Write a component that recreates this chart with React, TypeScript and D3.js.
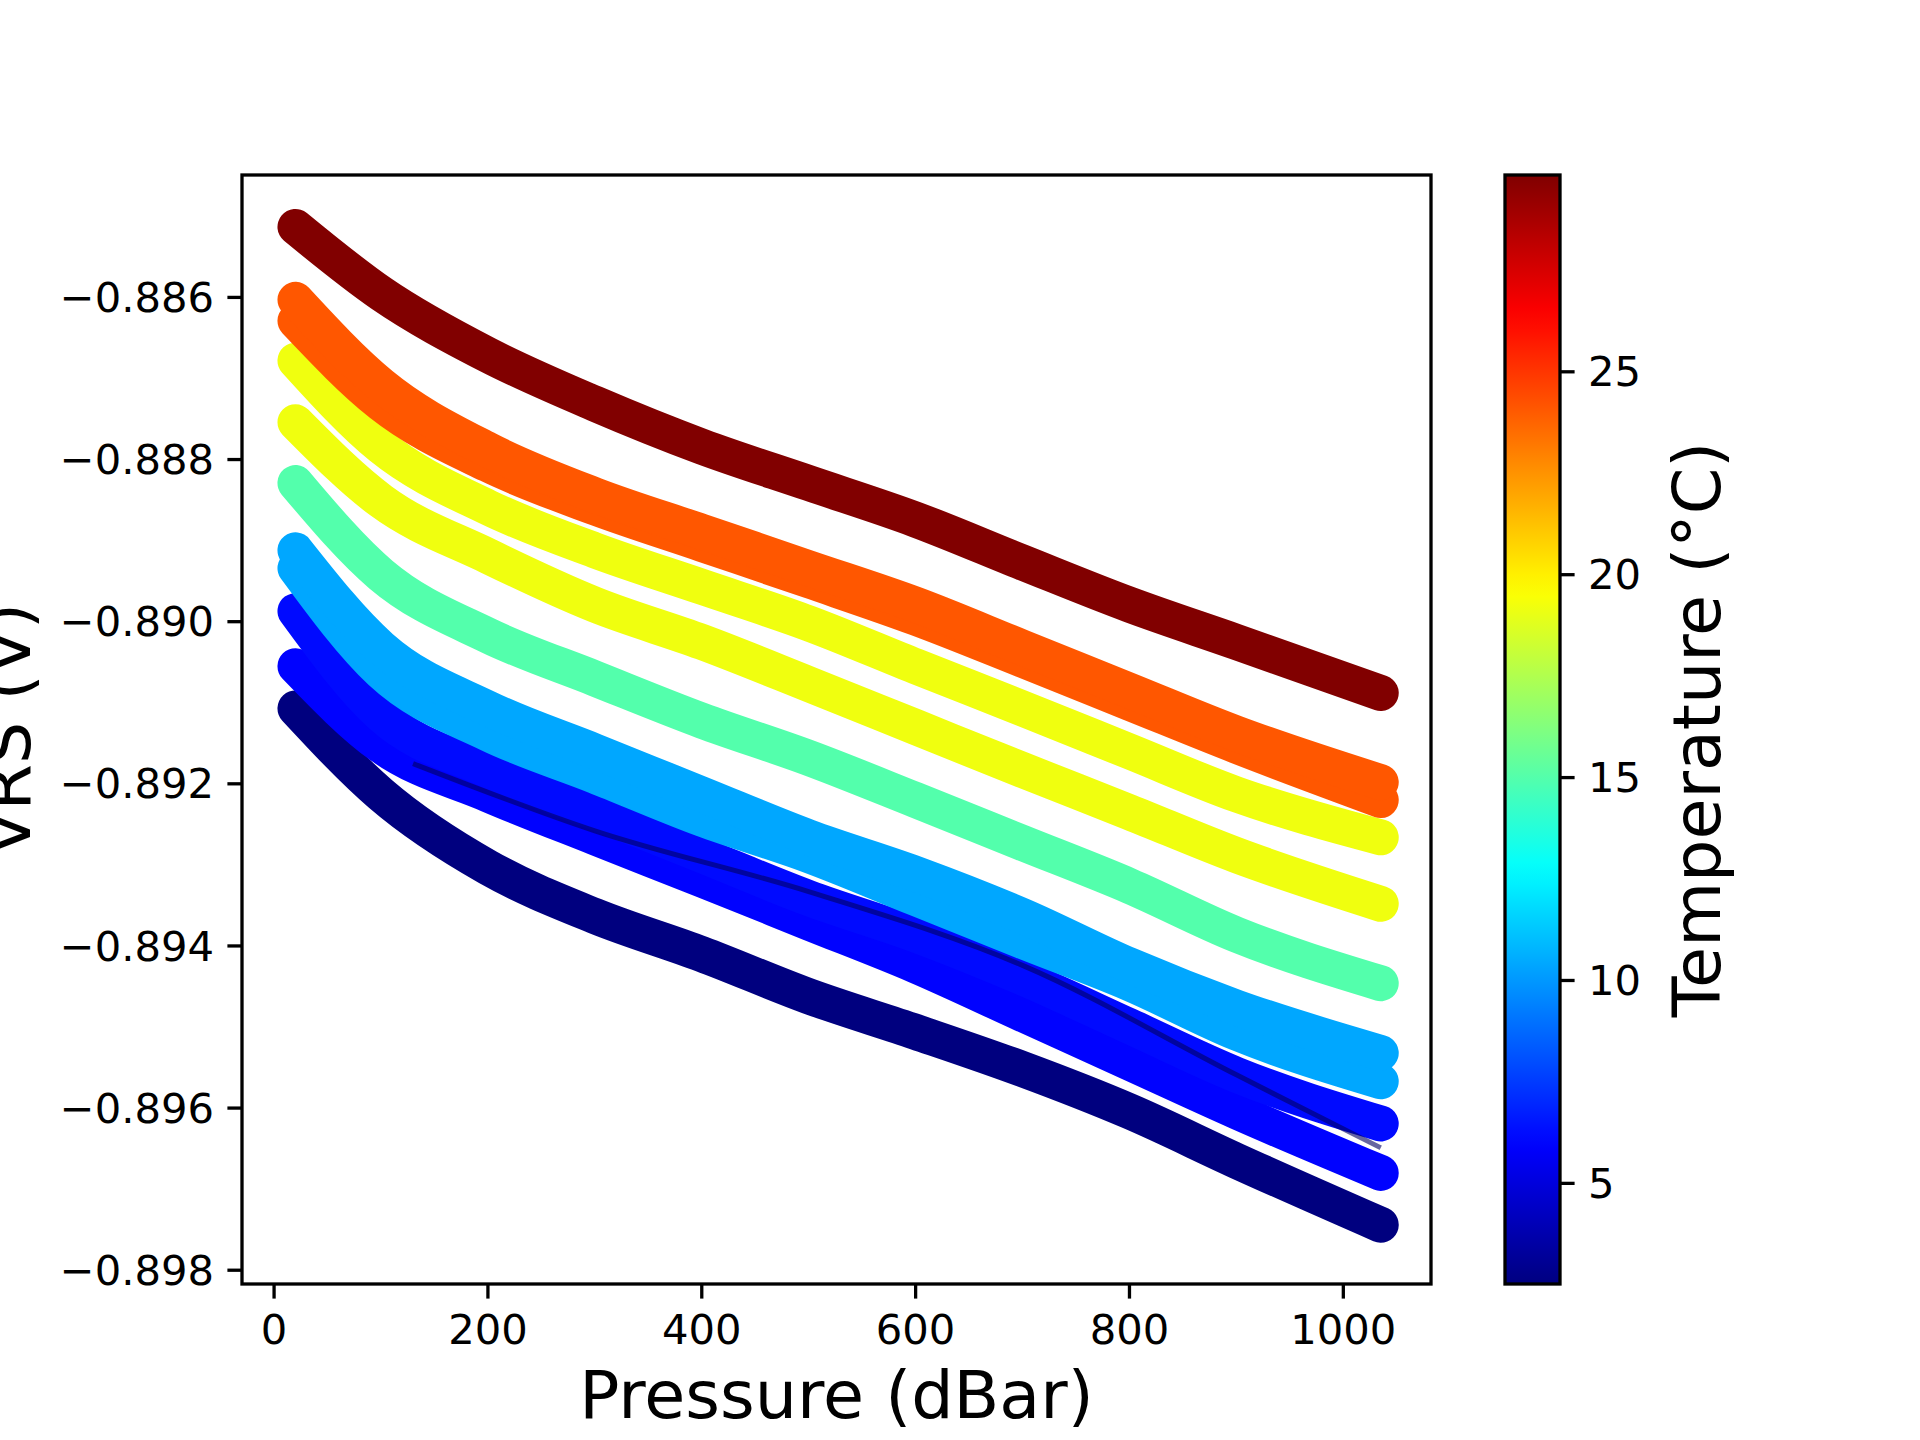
import React from 'react';
import * as d3 from 'd3';

const W = 1920;
const H = 1440;
const margin = { left: 242, right: 1431, top: 175, bottom: 1284 };
const cbar = { left: 1505, right: 1560 };

const pressures = [20, 100, 200, 300, 400, 500, 600, 700, 800, 900, 1035];

interface Series { temp: number; values: number[] }

const series: Series[] = [
  { temp: 2.5, values: [-0.89107, -0.89213, -0.89303, -0.89363, -0.8941, -0.89462, -0.89506, -0.89552, -0.89604, -0.89665, -0.89744] },
  { temp: 6.0, values: [-0.89055, -0.89153, -0.89213, -0.89266, -0.89318, -0.89371, -0.89424, -0.89484, -0.89544, -0.89604, -0.8968] },
  { temp: 6.2, values: [-0.88987, -0.89115, -0.89183, -0.89235, -0.89288, -0.89341, -0.89386, -0.89439, -0.89499, -0.89559, -0.89619] },
  { temp: 10.4, values: [-0.88934, -0.89062, -0.89138, -0.8919, -0.89243, -0.89288, -0.89341, -0.89394, -0.89446, -0.89507, -0.89567] },
  { temp: 10.4, values: [-0.88912, -0.89032, -0.89107, -0.8916, -0.89213, -0.89266, -0.89311, -0.89363, -0.89424, -0.89476, -0.89532] },
  { temp: 15.0, values: [-0.88829, -0.88942, -0.89017, -0.8907, -0.89122, -0.89168, -0.8922, -0.89273, -0.89326, -0.89386, -0.89446] },
  { temp: 19.2, values: [-0.88754, -0.88851, -0.88919, -0.88979, -0.89025, -0.89077, -0.8913, -0.89183, -0.89235, -0.89288, -0.89348] },
  { temp: 19.2, values: [-0.88678, -0.88784, -0.88859, -0.88912, -0.88957, -0.89002, -0.89055, -0.89107, -0.8916, -0.89213, -0.89266] },
  { temp: 24.1, values: [-0.88629, -0.88731, -0.88806, -0.88859, -0.88904, -0.88949, -0.88995, -0.89047, -0.891, -0.89153, -0.8922] },
  { temp: 24.1, values: [-0.88603, -0.88708, -0.88788, -0.88844, -0.88889, -0.88934, -0.88979, -0.89032, -0.89085, -0.89138, -0.89198] },
  { temp: 29.8, values: [-0.88513, -0.88595, -0.88671, -0.88731, -0.88784, -0.88829, -0.88874, -0.88927, -0.88979, -0.89025, -0.89088] },
];

// thin dark trace visible inside the blue band
const darkTraceP = [130, 300, 500, 700, 900, 1035];
const darkTraceV = [-0.89175, -0.89258, -0.89333, -0.89424, -0.89559, -0.89649];

const xTicks = [0, 200, 400, 600, 800, 1000];
const yTicks = [-0.886, -0.888, -0.89, -0.892, -0.894, -0.896, -0.898];
const cTicks = [5, 10, 15, 20, 25];
const tMin = 2.52;
const tMax = 29.85;

const clip = (v: number) => Math.max(0, Math.min(1, v));
const jet = (x: number) => {
  const r = clip(1.5 - Math.abs(4 * x - 3));
  const g = clip(1.5 - Math.abs(4 * x - 2));
  const b = clip(1.5 - Math.abs(4 * x - 1));
  return d3.rgb(r * 255, g * 255, b * 255).formatHex();
};

const font = 'DejaVu Sans, sans-serif';

export default function App() {
  const x = d3.scaleLinear().domain([-30, 1082]).range([margin.left, margin.right]);
  const y = d3.scaleLinear().domain([-0.89817, -0.88449]).range([margin.bottom, margin.top]);
  const c = d3.scaleLinear().domain([tMin, tMax]).range([margin.bottom, margin.top]);
  const line = d3.line<[number, number]>().x(d => x(d[0])).y(d => y(d[1])).curve(d3.curveMonotoneX);
  const fmt = (v: number) => v.toFixed(3).replace('-', '\u2212');
  const stops = d3.range(0, 1.0001, 0.02);

  return (
    <svg width={W} height={H} style={{ position: 'absolute', left: 0, top: 0 }} fontFamily={font}>
      <defs>
        <linearGradient id="jet" x1="0" y1="1" x2="0" y2="0">
          {stops.map(s => <stop key={s} offset={s} stopColor={jet(s)} />)}
        </linearGradient>
        <clipPath id="plot">
          <rect x={margin.left} y={margin.top} width={margin.right - margin.left} height={margin.bottom - margin.top} />
        </clipPath>
      </defs>
      <rect width={W} height={H} fill="white" />
      <g clipPath="url(#plot)">
        {series.map((s, i) => (
          <path key={i} d={line(pressures.map((p, j) => [p, s.values[j]]))!} fill="none"
            stroke={jet((s.temp - tMin) / (tMax - tMin))} strokeWidth={36} strokeLinecap="round" strokeLinejoin="round" />
        ))}
        <path d={line(darkTraceP.map((p, j) => [p, darkTraceV[j]]))!} fill="none" stroke="#000060" strokeOpacity={0.6} strokeWidth={5} />
      </g>
      <rect x={margin.left} y={margin.top} width={margin.right - margin.left} height={margin.bottom - margin.top}
        fill="none" stroke="black" strokeWidth={3.3} />
      {xTicks.map(t => (
        <g key={t}>
          <line x1={x(t)} x2={x(t)} y1={margin.bottom} y2={margin.bottom + 14.6} stroke="black" strokeWidth={3.3} />
          <text x={x(t)} y={margin.bottom + 60} textAnchor="middle" fontSize={41.7}>{t}</text>
        </g>
      ))}
      {yTicks.map(t => (
        <g key={t}>
          <line x1={margin.left - 14.6} x2={margin.left} y1={y(t)} y2={y(t)} stroke="black" strokeWidth={3.3} />
          <text x={margin.left - 28} y={y(t)} dy="0.35em" textAnchor="end" fontSize={41.7}>{fmt(t)}</text>
        </g>
      ))}
      <text x={(margin.left + margin.right) / 2} y={1418} textAnchor="middle" fontSize={66.7}>Pressure (dBar)</text>
      <text transform={`translate(30,${(margin.top + margin.bottom) / 2}) rotate(-90)`} textAnchor="middle" fontSize={66.7}>VRS (V)</text>
      <rect x={cbar.left} y={margin.top} width={cbar.right - cbar.left} height={margin.bottom - margin.top} fill="url(#jet)" stroke="black" strokeWidth={3.3} />
      {cTicks.map(t => (
        <g key={t}>
          <line x1={cbar.right} x2={cbar.right + 14.6} y1={c(t)} y2={c(t)} stroke="black" strokeWidth={3.3} />
          <text x={cbar.right + 28} y={c(t)} dy="0.35em" fontSize={41.7}>{t}</text>
        </g>
      ))}
      <text transform={`translate(1720,${(margin.top + margin.bottom) / 2}) rotate(-90)`} textAnchor="middle" fontSize={66.7}>Temperature (°C)</text>
    </svg>
  );
}
